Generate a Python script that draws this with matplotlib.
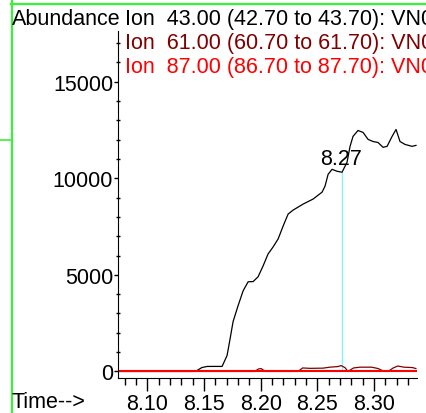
import matplotlib
matplotlib.use("Agg")
import matplotlib.pyplot as plt
from matplotlib.lines import Line2D
from matplotlib.ticker import MultipleLocator
import numpy as np

plt.rcParams["font.family"] = ["Liberation Sans", "DejaVu Sans"]

# Ion 43 (black trace)
t43 = [8.074, 8.140, 8.1439, 8.1480, 8.1527, 8.1600, 8.1659, 8.1703, 8.1730, 8.1756,
       8.1800, 8.1845, 8.1889, 8.1933, 8.1977, 8.2021, 8.2065, 8.2109, 8.2154, 8.2198,
       8.2242, 8.2286, 8.2374, 8.2462, 8.2542, 8.2568, 8.2595, 8.2630, 8.2674, 8.2718,
       8.2762, 8.2789, 8.2815, 8.2859, 8.2904, 8.2948, 8.2992, 8.3036, 8.3080, 8.3116,
       8.3160, 8.3195, 8.3230, 8.3274, 8.3336, 8.3371]
a43 = [0, 0, 50, 200, 258, 260, 258, 825, 1700, 2577,
       3400, 4175, 4640, 4650, 4900, 5460, 6080, 6440, 6860, 7525,
       8145, 8350, 8660, 8920, 9280, 9590, 10200, 10460, 10360, 10310,
       10825, 11650, 12165, 12470, 12370, 12010, 11900, 11850, 11600, 11650,
       12165, 12525, 11900, 11750, 11650, 11700]

# Ion 61 (dark red trace)
t61 = [8.074, 8.195, 8.1977, 8.2003, 8.2039, 8.233, 8.237, 8.2436, 8.255, 8.261,
       8.268, 8.271, 8.2744, 8.277, 8.282, 8.2877, 8.298, 8.3036, 8.309, 8.3125,
       8.317, 8.321, 8.3265, 8.334, 8.337]
a61 = [0, 0, 120, 150, 0, 0, 180, 160, 170, 220,
       250, 300, 200, 0, 180, 220, 220, 150, 0, 0,
       180, 280, 220, 200, 150]

# Ion 87 (red trace)
t87 = [8.074, 8.338]
a87 = [0, 0]

ion_labels = ["Ion  43.00 (42.70 to 43.70): VN0",
              "Ion  61.00 (60.70 to 61.70): VN0",
              "Ion  87.00 (86.70 to 87.70): VN0"]
ion_colors = ["black", "#800000", "#ff0000"]

rt_mark = 8.2718
rt_text = "8.27"

W, H = 426, 414
FS = 15.5
fig = plt.figure(figsize=(W / 100, H / 100), dpi=100)


def fx(x):
    return x / W


def fy(y):
    return 1 - y / H


ax = fig.add_axes([fx(118), fy(379), fx(417) - fx(118), fy(32) - fy(379)])
ax.plot(t43, a43, color=ion_colors[0], lw=0.9)
ax.plot(t61, a61, color=ion_colors[1], lw=0.9)
ax.plot(t87, a87, color=ion_colors[2], lw=1.5)

top = np.interp(rt_mark, t43, a43)
ax.vlines(rt_mark, 0, top, color="#7ff5f5", lw=1.0, zorder=1)
ax.annotate(rt_text, (rt_mark, top), xytext=(-1, 6), textcoords="offset points",
            ha="center", va="baseline", fontsize=FS)

ax.set_xlim(8.074, 8.338)
ax.set_ylim(-340, 17620)
ax.spines["top"].set_visible(False)
ax.spines["right"].set_visible(False)
ax.xaxis.set_major_locator(MultipleLocator(0.05))
ax.xaxis.set_minor_locator(MultipleLocator(0.01))
ax.yaxis.set_major_locator(MultipleLocator(5000))
ax.yaxis.set_minor_locator(MultipleLocator(1000))
ax.xaxis.set_major_formatter(plt.FormatStrFormatter("%.2f"))
ax.tick_params(axis="x", which="major", length=9, width=1, pad=2, labelsize=FS)
ax.tick_params(axis="x", which="minor", length=5, width=1)
ax.tick_params(axis="y", which="major", length=3, width=1, pad=0.5, labelsize=FS)
ax.tick_params(axis="y", which="minor", length=2.5, width=1, direction="inout")

fig.text(fx(12), fy(25), "Abundance", fontsize=FS, va="baseline")
for i, (lab, col) in enumerate(zip(ion_labels, ion_colors)):
    fig.text(fx(125), fy(25 + 24 * i), lab, color=col, fontsize=FS, va="baseline")
fig.text(fx(12), fy(408), "Time-->", fontsize=FS, va="baseline")

# green frame of the screenshot
green = "#3af03a"
fig.add_artist(Line2D([fx(11.5), fx(11.5)], [0, 1], color=green, lw=1.6))
fig.add_artist(Line2D([fx(11), 1], [fy(5), fy(5)], color=green, lw=1.6))
fig.add_artist(Line2D([0, fx(11)], [fy(141), fy(141)], color=green, lw=1.2))

fig.savefig("out.png", dpi=100)
